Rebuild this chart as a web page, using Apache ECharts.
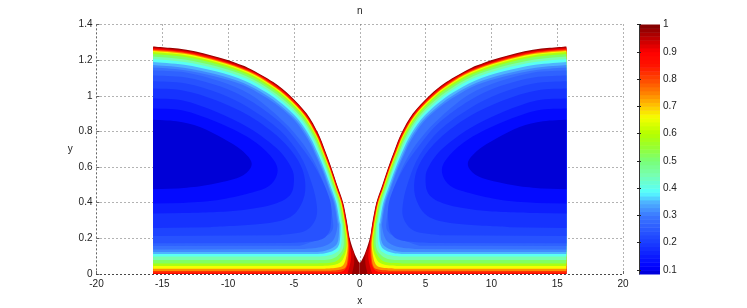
<!DOCTYPE html>
<html><head><meta charset="utf-8">
<style>html,body{margin:0;padding:0;background:#fff}#c{width:747px;height:308px}</style>
<script src="https://cdn.jsdelivr.net/npm/echarts@6/dist/echarts.min.js"></script>
</head><body><div id="c"></div>
<script>
// Filled contours of n on the left half (x<=0); the figure is mirror-symmetric about x=0.
const n100=[[-15.7,0],[-15.7,1.277],[-14.43,1.269],[-13.16,1.258],[-11.89,1.239],[-10.62,1.213],[-9.35,1.183],[-8.34,1.152],[-6.57,1.077],[-5.30,1.002],[-4.03,.900],[-3.15,.788],[-2.64,.694],[-2.14,.594],[-1.67,.489],[-1.27,.403],[-.99,.302],[-.79,.209],[-.49,.134],[-.23,.088],[0,.063],[0,0]];
const n96=[[-15.7,0],[-15.7,1.272],[-13.17,1.253],[-10.64,1.209],[-8.36,1.148],[-6.60,1.074],[-5.33,.999],[-4.07,.898],[-3.18,.787],[-2.67,.693],[-2.17,.593],[-1.70,.488],[-1.30,.402],[-1.02,.302],[-.94,.269],[-.71,.162],[-.47,.123],[-.42,.067],[-.50,.030],[-.60,0]];
const n92=[[-15.7,0],[-15.7,1.267],[-13.18,1.248],[-10.66,1.204],[-8.39,1.144],[-6.63,1.070],[-5.37,.997],[-4.10,.896],[-3.22,.785],[-2.70,.692],[-2.20,.592],[-1.73,.488],[-1.33,.402],[-1.05,.301],[-.98,.269],[-.74,.162],[-.65,.106],[-.70,.067],[-.85,.022],[-.95,0]];
const n85=[[-15.7,.007],[-15.7,1.261],[-13.19,1.243],[-10.68,1.199],[-8.41,1.140],[-6.67,1.067],[-5.41,.994],[-4.14,.894],[-3.26,.784],[-2.74,.691],[-2.23,.591],[-1.76,.487],[-1.36,.402],[-1.09,.301],[-1.02,.269],[-.80,.162],[-.85,.080],[-.95,.045],[-1.25,.017],[-1.88,.008]];
const n78=[[-15.7,.017],[-15.7,1.257],[-13.20,1.239],[-10.69,1.195],[-8.44,1.137],[-6.70,1.064],[-5.44,.991],[-4.18,.892],[-3.29,.783],[-2.77,.690],[-2.26,.591],[-1.78,.486],[-1.39,.401],[-1.11,.301],[-1.05,.269],[-.86,.162],[-1.00,.050],[-1.42,.025],[-2.26,.018]];
const n70=[[-15.7,.030],[-15.7,1.252],[-13.21,1.234],[-10.71,1.191],[-8.46,1.133],[-6.73,1.060],[-5.47,.989],[-4.21,.891],[-3.32,.781],[-2.80,.689],[-2.28,.590],[-1.81,.486],[-1.41,.401],[-1.15,.300],[-1.08,.269],[-.92,.157],[-1.16,.062],[-1.65,.036],[-2.64,.030]];
const n62=[[-15.7,.045],[-15.7,1.246],[-13.23,1.228],[-10.73,1.186],[-8.49,1.128],[-6.77,1.056],[-5.52,.985],[-4.26,.888],[-3.36,.780],[-2.84,.688],[-2.32,.589],[-1.84,.485],[-1.45,.400],[-1.18,.300],[-1.12,.269],[-.98,.157],[-1.31,.078],[-1.88,.052],[-2.87,.045]];
const n55=[[-15.7,.059],[-15.7,1.235],[-13.25,1.218],[-10.77,1.176],[-8.54,1.120],[-6.83,1.049],[-5.59,.980],[-4.33,.884],[-3.44,.777],[-2.90,.686],[-2.38,.587],[-1.90,.484],[-1.51,.399],[-1.25,.299],[-1.19,.269],[-1.08,.157],[-1.50,.090],[-2.11,.064],[-3.17,.059]];
const n48=[[-15.7,.078],[-15.7,1.221],[-13.28,1.204],[-10.83,1.164],[-8.61,1.109],[-6.92,1.040],[-5.69,.972],[-4.43,.879],[-3.53,.773],[-2.99,.683],[-2.46,.585],[-1.98,.482],[-1.59,.398],[-1.34,.298],[-1.27,.269],[-1.23,.157],[-1.65,.104],[-2.33,.081],[-3.40,.078]];
const n42=[[-15.7,.098],[-15.7,1.207],[-13.31,1.190],[-10.88,1.152],[-8.67,1.098],[-7.01,1.031],[-5.79,.964],[-4.53,.874],[-3.63,.769],[-3.08,.680],[-2.54,.583],[-2.06,.480],[-1.67,.397],[-1.42,.297],[-1.35,.269],[-1.42,.162],[-1.80,.120],[-2.56,.101],[-3.78,.098]];
const n37=[[-15.7,.112],[-15.7,1.190],[-13.34,1.174],[-10.94,1.137],[-8.75,1.085],[-7.11,1.020],[-5.90,.955],[-4.66,.867],[-3.74,.765],[-3.18,.677],[-2.64,.580],[-2.15,.478],[-1.77,.395],[-1.53,.296],[-1.46,.269],[-1.54,.174],[-1.92,.134],[-2.71,.115],[-3.93,.112]];
const n33=[[-15.7,.123],[-15.7,1.173],[-13.38,1.158],[-11.00,1.122],[-8.83,1.072],[-7.22,1.009],[-6.02,.946],[-4.78,.861],[-3.85,.760],[-3.29,.674],[-2.73,.577],[-2.25,.476],[-1.86,.394],[-1.63,.295],[-1.57,.269],[-1.65,.185],[-2.03,.148],[-2.87,.126],[-4.08,.123]];
const n30=[[-15.7,.137],[-15.7,1.159],[-13.41,1.145],[-11.05,1.110],[-8.90,1.062],[-7.31,.999],[-6.12,.939],[-4.88,.856],[-3.95,.756],[-3.38,.671],[-2.81,.575],[-2.33,.474],[-1.94,.392],[-1.72,.294],[-1.70,.265],[-1.88,.209],[-2.26,.172],[-3.02,.150],[-4.31,.140]];
const n275=[[-15.7,.157],[-15.7,1.142],[-13.21,1.131],[-10.62,1.081],[-8.34,1.008],[-6.22,.885],[-4.62,.761],[-3.40,.622],[-2.42,.442],[-2.03,.291],[-2.18,.235],[-2.87,.202],[-4.54,.158]];
const n25=[[-15.7,.173],[-15.7,1.114],[-13.21,1.103],[-10.62,1.053],[-8.34,.974],[-6.06,.851],[-4.54,.722],[-3.25,.582],[-2.26,.414],[-2.18,.291],[-2.42,.224],[-3.17,.188],[-5.30,.174]];
const n225=[[-15.7,.213],[-15.7,1.081],[-13.21,1.069],[-10.62,1.013],[-8.34,.929],[-6.06,.806],[-4.54,.666],[-3.78,.537],[-3.32,.414],[-3.32,.314],[-4.16,.241],[-6.06,.218]];
const n20=[[-15.7,.258],[-15.7,1.041],[-13.44,1.030],[-10.87,.974],[-8.34,.885],[-6.06,.761],[-4.69,.638],[-4.16,.526],[-4.31,.414],[-5.30,.319],[-7.58,.280],[-11.39,.263]];
const n17=[[-15.7,.340],[-15.7,.985],[-13.44,.974],[-10.87,.909],[-8.34,.817],[-6.31,.705],[-5.30,.610],[-5,.537],[-5.30,.442],[-6.82,.386],[-9.64,.354],[-13.44,.342]];
const n14=[[-15.7,.396],[-15.7,.929],[-13.44,.918],[-10.87,.853],[-8.34,.761],[-6.82,.666],[-6.24,.582],[-6.82,.498],[-8.34,.454],[-10.87,.414],[-13.44,.399]];
const n11=[[-15.7,.476],[-15.7,.866],[-13.92,.857],[-12.14,.825],[-10.37,.760],[-8.97,.694],[-8.21,.620],[-8.85,.554],[-10.37,.517],[-12.14,.493],[-13.92,.480]];
const contourLevels=[1,.96,.92,.85,.78,.70,.62,.55,.48,.42,.37,.33,.30,.275,.25,.225,.20,.17,.14,.11,.07];
const contours=[n100,n96,n92,n85,n78,n70,n62,n55,n48,n42,n37,n33,n30,n275,n25,n225,n20,n17,n14,n11];
const xTicks=[-20,-15,-10,-5,0,5,10,15,20];
const colorbarTicks=[.1,.2,.3,.4,.5,.6,.7,.8,.9,1];
const colorMin=.085, colorMax=1, colorSteps=64;

const stops=[[.085,[0,0,205]],[.11,[0,0,255]],[.2,[26,60,255]],[.3,[60,120,255]],[.35,[78,180,255]],[.385,[85,255,255]],[.45,[120,255,175]],[.5,[120,255,120]],[.55,[150,255,50]],[.6,[180,255,0]],[.66,[245,255,0]],[.7,[255,200,0]],[.75,[255,130,0]],[.8,[255,70,0]],[.85,[255,20,0]],[.9,[255,0,0]],[.95,[190,0,0]],[1,[125,0,0]]];
function col(v){
  if(v<=stops[0][0])return 'rgb('+stops[0][1]+')';
  for(let i=1;i<stops.length;i++){
    if(v<=stops[i][0]){
      const a=stops[i-1],b=stops[i],t=(v-a[0])/(b[0]-a[0]);
      return 'rgb('+a[1].map((c,k)=>Math.round(c+(b[1][k]-c)*t)).join(',')+')';
    }
  }
  return 'rgb('+stops[stops.length-1][1]+')';
}
const font='"Liberation Sans",Arial,sans-serif', ink='#222', gridCol='#666';
const dotted={color:gridCol,width:1,type:[1,3]};
const lbl={fontFamily:font,fontSize:10,color:ink};
const barSteps=[];
for(let i=0;i<colorSteps;i++){barSteps.push([colorMin+(colorMax-colorMin)*i/colorSteps,colorMin+(colorMax-colorMin)*(i+1)/colorSteps]);}

// Smooth outline of one contour through its read points (Catmull-Rom drawn as beziers).
function outline(c,mirror,api){
  const s=mirror?-1:1;
  const px=c.map(q=>api.coord([s*q[0],q[1]]));
  let end=c.length; while(end>1&&c[end-1][1]===0)end--;
  const curve=px.slice(1,end);
  const f=v=>v.toFixed(2);
  let d='M'+f(px[0][0])+' '+f(px[0][1])+'L'+f(curve[0][0])+' '+f(curve[0][1]);
  const axisX=api.coord([0,0])[0];
  for(let i=0;i<curve.length-1;i++){
    const p0=curve[i-1]||curve[i],p1=curve[i],p2=curve[i+1];
    let p3=curve[i+2]||p2;
    if(!curve[i+2]&&c[end-1][0]===0)p3=[2*axisX-p1[0],p1[1]];
    d+='C'+f(p1[0]+(p2[0]-p0[0])/6)+' '+f(p1[1]+(p2[1]-p0[1])/6)+' '+f(p2[0]-(p3[0]-p1[0])/6)+' '+f(p2[1]-(p3[1]-p1[1])/6)+' '+f(p2[0])+' '+f(p2[1]);
  }
  for(let i=end;i<px.length;i++)d+='L'+f(px[i][0])+' '+f(px[i][1]);
  return d+'Z';
}
const option={
  animation:false,
  title:{text:'n',left:352,top:1,textStyle:{fontFamily:font,fontSize:10,fontWeight:'normal',color:ink}},
  grid:[{left:96.5,top:24.5,width:526.5,height:249.5,outerBoundsMode:'none'},{left:639,top:24.5,width:21,height:249.5,outerBoundsMode:'none'}],
  xAxis:[
    {type:'value',gridIndex:0,min:-20,max:20,interval:5,name:'x',nameLocation:'middle',nameGap:22,nameTextStyle:lbl,
     axisLabel:Object.assign({margin:5,customValues:xTicks},lbl),axisTick:{show:true,inside:true,length:3,lineStyle:{color:gridCol}},
     axisLine:{show:true,onZero:false,lineStyle:dotted},splitLine:{show:true,lineStyle:dotted}},
    {type:'value',gridIndex:1,min:0,max:1,show:false},
    {type:'value',gridIndex:0,min:-20,max:20,interval:5,position:'bottom',z:10,axisLabel:{show:false},axisTick:{show:false},
     axisLine:{show:true,onZero:false,lineStyle:{color:'#444',width:1,type:[1,3]}},splitLine:{show:false}}
  ],
  yAxis:[
    {type:'value',gridIndex:0,min:0,max:1.4,interval:.2,name:'y',nameLocation:'middle',nameGap:19,nameRotate:0,nameTextStyle:Object.assign({padding:[0,0,6,0]},lbl),
     axisLabel:Object.assign({margin:4,padding:[2,0,0,0],verticalAlignMaxLabel:'middle',verticalAlignMinLabel:'middle'},lbl),axisTick:{show:true,inside:true,length:3,lineStyle:{color:gridCol}},
     axisLine:{show:true,onZero:false,lineStyle:dotted},splitLine:{show:true,lineStyle:dotted}},
    {type:'value',gridIndex:1,min:colorMin,max:colorMax,position:'right',z:10,
     axisLabel:Object.assign({margin:3,padding:[2,0,0,0],customValues:colorbarTicks,verticalAlignMaxLabel:'middle',verticalAlignMinLabel:'middle',formatter:v=>String(+v.toFixed(1))},lbl),
     axisTick:{show:true,inside:true,length:2,customValues:colorbarTicks,lineStyle:{color:'#222'}},
     axisLine:{show:true,lineStyle:{color:'#333'}},splitLine:{show:false}},
    {type:'value',gridIndex:1,min:colorMin,max:colorMax,position:'left',z:10,
     axisLabel:{show:false},axisTick:{show:true,inside:true,length:2,customValues:colorbarTicks,lineStyle:{color:'#222'}},
     axisLine:{show:false},splitLine:{show:false}}
  ],
  series:[
    {type:'custom',xAxisIndex:0,yAxisIndex:0,clip:false,silent:true,coordinateSystem:'cartesian2d',
     data:contours.map((c,i)=>[i]),
     renderItem:(p,api)=>{
       const i=api.value(0),c=contours[i],fill=col((contourLevels[i]+contourLevels[i+1])/2);
       return {type:'group',children:[
         {type:'path',shape:{pathData:outline(c,false,api)},style:{fill:fill}},
         {type:'path',shape:{pathData:outline(c,true,api)},style:{fill:fill}}]};
     }},
    {type:'custom',xAxisIndex:1,yAxisIndex:1,silent:true,coordinateSystem:'cartesian2d',
     data:barSteps,
     encode:{y:[0,1]},
     renderItem:(p,api)=>{
       const a=api.coord([0,api.value(0)]),b=api.coord([1,api.value(1)]);
       return {type:'rect',shape:{x:a[0],y:b[1],width:b[0]-a[0],height:a[1]-b[1]+.5},
         style:{fill:col((api.value(0)+api.value(1))/2)}};
     }}
  ]
};
echarts.init(document.getElementById('c'),null,{renderer:'canvas'}).setOption(option);
</script></body></html>
